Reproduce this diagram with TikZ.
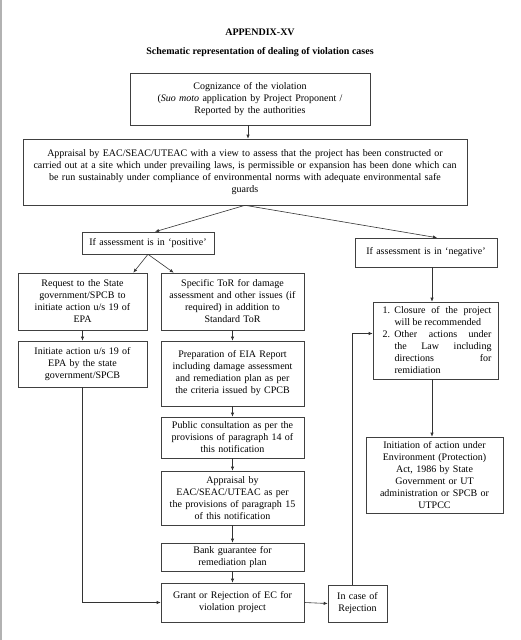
\documentclass[tikz,border=0pt]{standalone}
\usepackage{fontspec}
\setmainfont{Liberation Serif}
\usepackage{tikz}
\usetikzlibrary{arrows.meta,calc}

\tikzset{
  plainbox/.style={draw=black!75, line width=0.6pt, inner xsep=2pt, inner ysep=2pt,
    font=\fontsize{10}{12}\selectfont},
  box/.style={plainbox, align=center},
  arr/.style={draw=black!80, line width=0.6pt, -{Latex[length=4pt,width=3.4pt]}}
}

% 编号段落：悬挂缩进，两端对齐
\newcommand{\numitem}[2]{\hangindent=15pt\hangafter=1\noindent\makebox[15pt][l]{\hspace{3pt}#1}#2\par}

\begin{document}
\begin{tikzpicture}[x=1pt,y=-1pt]
\useasboundingbox (0,0) rectangle (521,640);
\draw[black!30, line width=1.5pt] (0.8,0) -- (0.8,640);

% ========= 标题 =========
\node[font=\fontsize{10}{12}\selectfont\bfseries] (ttl) at (260,32) {APPENDIX-XV};
\node[font=\fontsize{10}{12}\selectfont\bfseries] (sub) at (260,52) {Schematic representation of dealing of violation cases};

% ========= 上部 =========
\node[box, text width=236pt, minimum height=52pt] (cog) at (250,99)
  {Cognizance of the violation\\(\textit{Suo moto} application by Project Proponent /\\Reported by the authorities};
\node[box, text width=440pt, minimum height=66pt] (appr) at (245,172)
  {Appraisal by EAC/SEAC/UTEAC with a view to assess that the project has been constructed or\\
   carried out at a site which under prevailing laws, is permissible or expansion has been done which can\\
   be run sustainably under compliance of environmental norms with adequate environmental safe\\guards};
\draw[arr] (cog.south -| 248,0) -- (appr.north -| 248,0);

\node[box, text width=128pt, minimum height=22pt] (pos) at (148,243) {If assessment is in ‘positive’};
\node[box, text width=138pt, minimum height=29pt] (neg) at (426,252.5) {If assessment is in ‘negative’};
\draw[arr] (appr.south) -- ($(pos.north)+(7,0)$);
\draw[arr] (appr.south) -- ($(neg.north)+(11,0)$);

% ========= 左列 =========
\node[box, text width=125pt, minimum height=57pt] (req) at (82.5,301.5)
  {Request to the State\\government/SPCB to\\initiate action u/s 19 of\\EPA};
\node[box, text width=125pt, minimum height=46pt] (init) at (82.5,364)
  {Initiate action u/s 19 of\\EPA by the state\\government/SPCB};
\draw[arr] (req.south) -- (init.north);

% ========= 中列 =========
\node[box, text width=139pt, minimum height=57pt] (spec) at (232.5,301.5)
  {Specific ToR for damage\\assessment and other issues (if\\required) in addition to\\Standard ToR};
\node[box, text width=139pt, minimum height=65pt] (prep) at (232.5,373.5)
  {Preparation of EIA Report\\including damage assessment\\and remediation plan as per\\the criteria issued by CPCB};
\node[box, text width=139pt, minimum height=41pt] (pub) at (232.5,437.5)
  {Public consultation as per the\\provisions of paragraph 14 of\\this notification};
\node[box, text width=139pt, minimum height=54pt] (appr2) at (232.5,498)
  {Appraisal by\\EAC/SEAC/UTEAC as per\\the provisions of paragraph 15\\of this notification};
\node[box, text width=139pt, minimum height=28pt] (bank) at (232.5,557)
  {Bank guarantee for\\remediation plan};
\node[box, text width=139pt, minimum height=39pt] (grant) at (232.5,602.5)
  {Grant or Rejection of EC for\\violation project};
\draw[arr] (pos.south) -- ($(req.north east)+(-14,0)$);
\draw[arr] (pos.south) -- ($(spec.north west)+(13,0)$);
\draw[arr] (spec.south) -- (prep.north);
\draw[arr] (prep.south) -- (pub.north);
\draw[arr] (pub.south) -- (appr2.north);
\draw[arr] (appr2.south) -- (bank.north);
\draw[arr] (bank.south) -- (grant.north);
\draw[arr] (init.south) |- (grant.west);

% ========= 右列 =========
\node[plainbox, inner xsep=6.5pt, minimum height=77pt] (clos) at (435.5,340.5)
  {\parbox{112pt}{\leftskip=0pt\rightskip=0pt\parfillskip=0pt plus 1fil\parindent=0pt
   \numitem{1.}{Closure of the project\linebreak will be recommended}
   \numitem{2.}{Other actions under\linebreak the Law including\linebreak directions for\linebreak remidiation}}};
\node[box, text width=133pt, minimum height=76pt] (inn) at (434.5,475)
  {Initiation of action under\\Environment (Protection)\\Act, 1986 by State\\Government or UT\\administration or SPCB or\\UTPCC};
\node[box, text width=55pt, minimum height=37pt] (rej) at (357.5,603.5) {In case of\\Rejection};
\draw[arr] (neg.south -| 432,0) -- (clos.north -| 432,0);
\draw[arr] (clos.south -| 432,0) -- (inn.north -| 432,0);
\draw[arr] (grant.east) -- (rej.west);
\coordinate (back) at ($(clos.west)+(0,-7)$);
\draw[arr] (rej.north -| 352,0) |- (back);
\end{tikzpicture}
\end{document}
